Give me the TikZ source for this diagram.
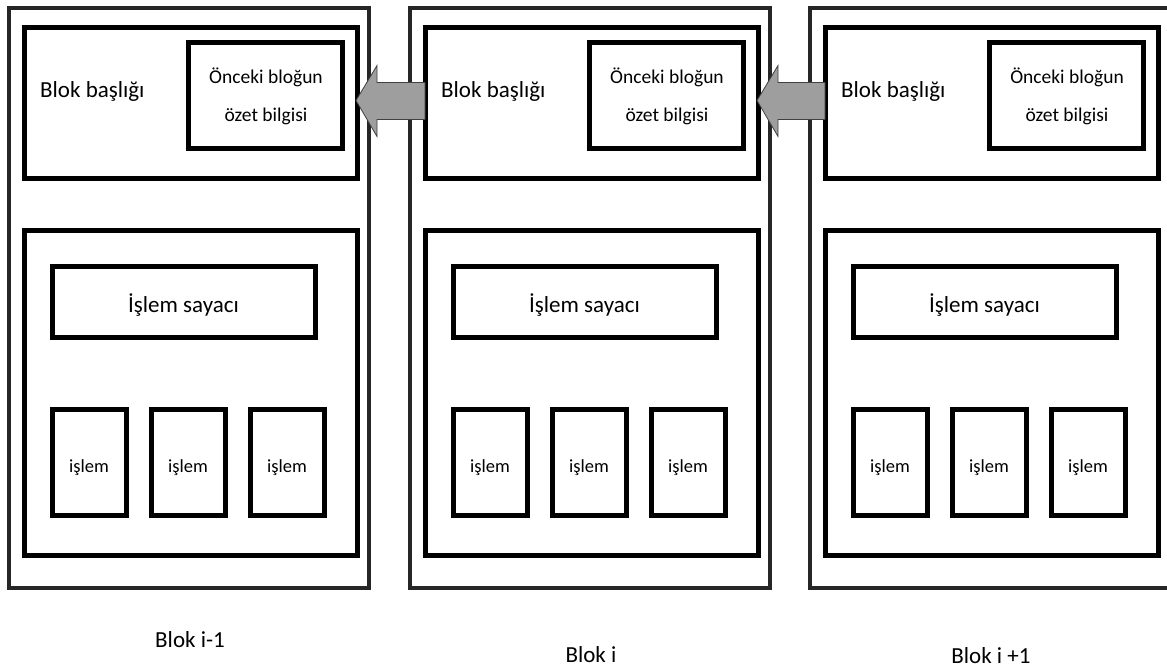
\documentclass[tikz,border=0pt]{standalone}
\usepackage{fontspec}
\setmainfont{Carlito}
\usetikzlibrary{calc}

\tikzset{
  outerbox/.style={draw=black!85, line width=3.2pt, outer sep=0pt},
  innerbox/.style={draw=black, line width=5pt, outer sep=0pt, anchor=north west, inner sep=0pt},
  txt/.style={text=black, inner sep=0pt},
  bigtxt/.style={txt, font=\fontsize{23}{23}\selectfont},
  midtxt/.style={txt, font=\fontsize{19.5}{38}\selectfont, align=center},
  smalltxt/.style={txt, font=\fontsize{18.5}{18.5}\selectfont},
  chainarrow/.style={fill=black!38, draw=black!75, line width=0.8pt, line join=miter}
}

\begin{document}
\begin{tikzpicture}[x=1pt, y=-1pt]
  \useasboundingbox (0,0) rectangle (1167,670);
  \clip (0,0) rectangle (1167,670);

  % three blocks of the chain: index / left edge / caption / caption baseline
  \foreach \i/\x/\cap/\cy in {1/9/{Blok i-1}/647, 2/410/{Blok i}/662, 3/810/{Blok i +1}/663}{
    % block frame
    \draw[outerbox] (\x,8) rectangle ++(360,580);
    % header with the summary of the previous block
    \node[innerbox, minimum width=333pt, minimum height=151pt] (b\i h) at (\x+15,27) {};
    \node[bigtxt, anchor=base west] (b\i ht) at (\x+31,97) {Blok başlığı};
    \node[innerbox, minimum width=154pt, minimum height=106pt] (b\i s) at (\x+179,42) {};
    \node[midtxt, anchor=base] (b\i st) at ($(b\i s.center)+(1,26)$) {Önceki bloğun\\özet bilgisi};
    % body: transaction counter and transactions
    \node[innerbox, minimum width=333pt, minimum height=325pt] (b\i b) at (\x+15,230) {};
    \node[innerbox, minimum width=263pt, minimum height=71pt] (b\i c) at (\x+43,266) {};
    \node[bigtxt, anchor=base] (b\i ct) at ($(b\i c.center)+(0,11)$) {İşlem sayacı};
    \foreach \j/\dx in {1/43, 2/142, 3/241}{
      \node[innerbox, minimum width=74pt, minimum height=106pt] (b\i t\j) at (\x+\dx,409) {};
      \node[smalltxt, anchor=base] at ($(b\i t\j.center)+(0,10)$) {işlem};
    }
    % caption
    \node[bigtxt, anchor=base] (b\i l) at (\x+181,\cy) {\cap};
  }

  % hash links pointing back to the previous block
  \foreach \a/\b in {1/2, 2/3}{
    \draw[chainarrow]
      ($(b\a h.east)+(-1,-2)$) -- ++(21,-35) -- ++(0,17)
      -- ($(b\b h.west)+(0,-20)$) -- ($(b\b h.west)+(0,17)$)
      -- ($(b\a h.east)+(20,17)$) -- ++(0,17) -- cycle;
  }
\end{tikzpicture}
\end{document}
